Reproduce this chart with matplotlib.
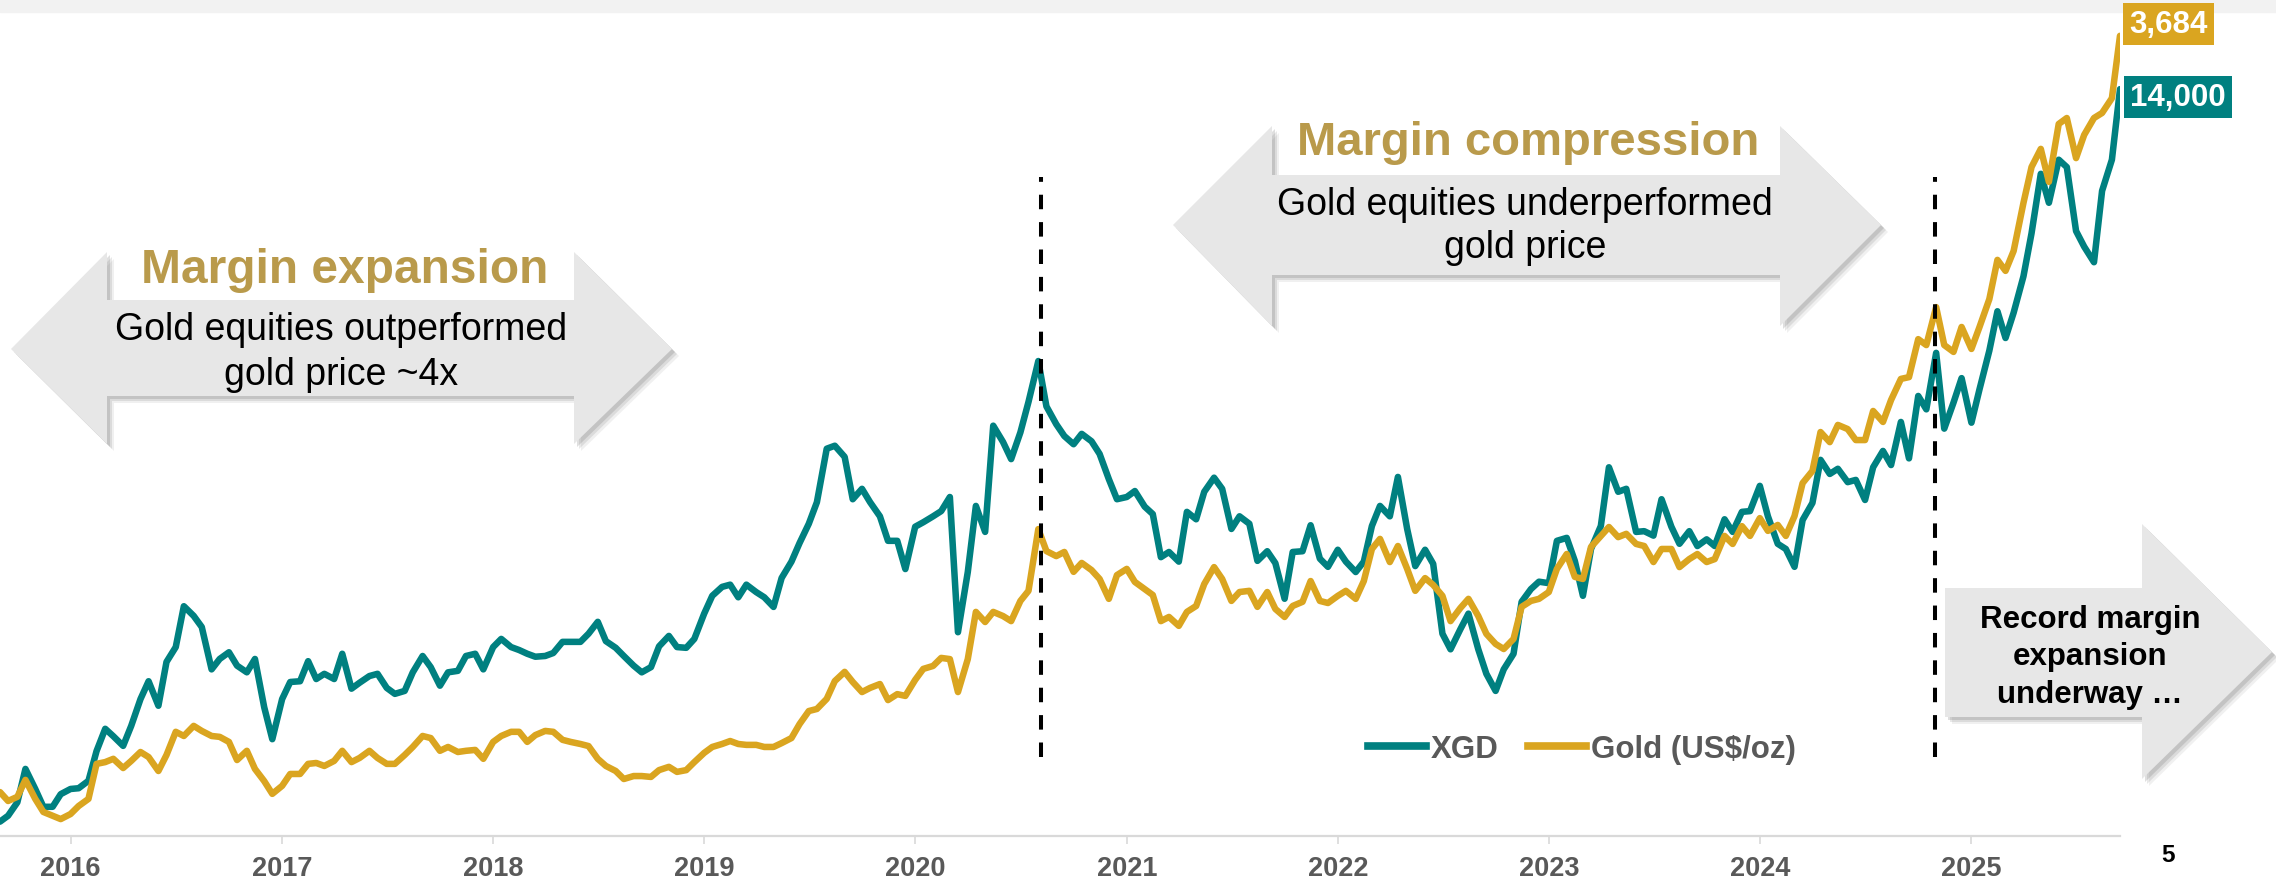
import matplotlib
matplotlib.use('Agg')
import matplotlib.pyplot as plt
from matplotlib.patches import Polygon, Rectangle
from matplotlib.lines import Line2D
import pandas as pd

plt.rcParams['font.family'] = ['Liberation Sans', 'DejaVu Sans']

W, H = 2276, 879
TEAL = '#008080'
GOLD = '#daa520'
TITLE_C = '#b99a4b'
GREY_TXT = '#595959'
ARROW_C = '#e7e7e7'

# semi-monthly observations, Sep 2015 - Sep 2025
dates = pd.date_range('2015-09-01', '2025-09-15', freq='SMS')

xgd = [4140, 4220, 4400, 4850, 4580, 4340, 4340, 4510, 4580, 4590,
       4690, 5090, 5390, 5290, 5160, 5430, 5790, 6030, 5700, 6290,
       6490, 7040, 6910, 6760, 6190, 6330, 6420, 6240, 6150, 6330,
       5680, 5250, 5790, 6020, 6030, 6300, 6060, 6130, 6060, 6400,
       5930, 6010, 6100, 6130, 5940, 5860, 5900, 6150, 6370, 6220,
       5970, 6150, 6170, 6370, 6400, 6190, 6490, 6600, 6490, 6450,
       6400, 6360, 6370, 6410, 6560, 6560, 6560, 6670, 6830, 6570,
       6480, 6370, 6240, 6150, 6220, 6500, 6640, 6490, 6480, 6600,
       6940, 7180, 7300, 7330, 7160, 7330, 7230, 7160, 7030, 7420,
       7640, 7890, 8150, 8440, 9160, 9200, 9050, 8480, 8620, 8440,
       8250, 7920, 7920, 7540, 8110, 8170, 8250, 8320, 8510, 6690,
       7500, 8390, 8040, 9470, 9250, 9020, 9380, 9790, 10340, 9730,
       9490, 9330, 9220, 9360, 9260, 9090, 8750, 8480, 8510, 8590,
       8380, 8280, 7700, 7770, 7640, 8310, 8210, 8580, 8770, 8620,
       8080, 8250, 8150, 7650, 7780, 7620, 7140, 7770, 7780, 8130,
       7680, 7570, 7800, 7640, 7500, 7640, 8120, 8390, 8250, 8780,
       8080, 7580, 7800, 7610, 6670, 6460, 6730, 6940, 6460, 6130,
       5900, 6190, 6400, 7100, 7270, 7370, 7350, 7920, 7960, 7650,
       7180, 7810, 8120, 8910, 8580, 8620, 8040, 8050, 7990, 8480,
       8110, 7880, 8050, 7850, 7940, 7850, 8210, 8040, 8310, 8320,
       8660, 8250, 7880, 7810, 7570, 8200, 8430, 9010, 8820, 8890,
       8710, 8740, 8470, 8910, 9130, 8940, 9520, 9030, 9870, 9690,
       10450, 9430, 9780, 10110, 9510, 9960, 10480, 11010, 10650, 10990,
       11480, 12060, 12860, 12470, 13050, 12950, 12090, 11880, 11670, 12630,
       13050, 14000]

gold = [1136, 1106, 1120, 1177, 1113, 1069, 1056, 1045, 1062, 1089,
        1113, 1231, 1237, 1248, 1217, 1241, 1271, 1254, 1207, 1261,
        1339, 1325, 1359, 1342, 1325, 1322, 1305, 1244, 1275, 1214,
        1173, 1130, 1157, 1197, 1197, 1231, 1234, 1224, 1241, 1275,
        1237, 1251, 1275, 1251, 1231, 1231, 1261, 1288, 1325, 1318,
        1275, 1288, 1271, 1275, 1278, 1248, 1305, 1325, 1339, 1339,
        1305, 1328, 1342, 1339, 1312, 1305, 1298, 1291, 1248, 1224,
        1207, 1180, 1190, 1190, 1187, 1210, 1221, 1204, 1210, 1237,
        1268, 1288, 1298, 1308, 1298, 1295, 1295, 1288, 1288, 1301,
        1318, 1365, 1409, 1416, 1450, 1510, 1541, 1507, 1473, 1487,
        1500, 1446, 1466, 1460, 1514, 1551, 1561, 1588, 1584, 1473,
        1584, 1743, 1709, 1743, 1729, 1712, 1780, 1814, 2022, 1948,
        1931, 1945, 1878, 1908, 1884, 1854, 1787, 1867, 1888, 1844,
        1820, 1800, 1712, 1726, 1696, 1743, 1763, 1837, 1894, 1854,
        1780, 1810, 1814, 1760, 1810, 1753, 1726, 1763, 1777, 1847,
        1780, 1773, 1797, 1814, 1787, 1847, 1955, 1989, 1911, 1965,
        1888, 1814, 1857, 1834, 1797, 1712, 1756, 1787, 1729, 1669,
        1635, 1618, 1652, 1760, 1780, 1787, 1810, 1888, 1938, 1861,
        1854, 1962, 1999, 2029, 1995, 2006, 1972, 1965, 1911, 1955,
        1955, 1894, 1921, 1938, 1911, 1921, 1999, 1972, 2032, 1999,
        2059, 2016, 2036, 1999, 2066, 2177, 2218, 2349, 2315, 2373,
        2359, 2322, 2322, 2420, 2383, 2457, 2528, 2534, 2662, 2642,
        2770, 2642, 2619, 2703, 2629, 2703, 2797, 2929, 2892, 2959,
        3121, 3242, 3303, 3192, 3387, 3407, 3272, 3350, 3407, 3424,
        3474, 3684]

year_labels = ['2016', '2017', '2018', '2019', '2020',
               '2021', '2022', '2023', '2024', '2025']
regime_changes = ['2020-08-05', '2024-10-30']


def fx(x):
    return x / W


def fy(y):
    return 1 - y / H


def big_arrow(pts):
    # drop shadow, a few offset layers to fake the blur
    for off, a in [(7, 0.10), (5, 0.16), (3, 0.22)]:
        sh = [(fx(x + off), fy(y + off)) for x, y in pts]
        fig.add_artist(Polygon(sh, closed=True, transform=fig.transFigure,
                               fc='#707070', ec='none', alpha=a, zorder=2))
    fig.add_artist(Polygon([(fx(x), fy(y)) for x, y in pts], closed=True,
                           transform=fig.transFigure, fc=ARROW_C, ec='none', zorder=3))


fig = plt.figure(figsize=(W / 100, H / 100), dpi=100)
fig.add_artist(Rectangle((0, fy(13)), 1, 13 / H, transform=fig.transFigure,
                         color='#f2f2f2', zorder=-1))

ax = fig.add_axes([0, fy(837), fx(2120), 837 / H])
ax.set_facecolor('none')
ax2 = ax.twinx()

ax.plot(dates, xgd, color=TEAL, lw=4.7, solid_joinstyle='round', solid_capstyle='round')
ax2.plot(dates, gold, color=GOLD, lw=4.7, solid_joinstyle='round', solid_capstyle='round')

ax.set_xlim(dates[0], dates[-1])
ax.set_ylim(3947, 15213)
ax2.set_ylim(988, 3808)

for a in (ax, ax2):
    for s in ['top', 'left', 'right']:
        a.spines[s].set_visible(False)
    a.set_yticks([])
ax2.spines['bottom'].set_visible(False)
ax.spines['bottom'].set_color('#d9d9d9')
ax.spines['bottom'].set_linewidth(1.6)

ax.set_xticks(pd.to_datetime([y + '-01-01' for y in year_labels]))
ax.set_xticklabels(year_labels, fontweight='bold')
ax.tick_params(axis='x', colors='#d9d9d9', length=6, width=1.2,
               labelcolor=GREY_TXT, labelsize=19.5, pad=8)

for d in regime_changes:
    ax2.axvline(pd.Timestamp(d), ymin=0.094, ymax=0.787, color='black',
                lw=2.9, ls=(0, (3.6, 3.2)), zorder=5)

# end-of-series value tags
ax2.annotate(f'{gold[-1]:,}', xy=(dates[-1], gold[-1]), xytext=(9, 12),
             textcoords='offset pixels', ha='left', va='center', color='white',
             fontweight='bold', fontsize=22.5, annotation_clip=False,
             bbox=dict(boxstyle='square,pad=0.2', fc=GOLD, ec='none'))
ax.annotate(f'{xgd[-1]:,}', xy=(dates[-1], xgd[-1]), xytext=(10, -8),
            textcoords='offset pixels', ha='left', va='center', color='white',
            fontweight='bold', fontsize=22.5, annotation_clip=False,
            bbox=dict(boxstyle='square,pad=0.2', fc=TEAL, ec='none'))

handles = [Line2D([], [], color=TEAL, lw=5.5), Line2D([], [], color=GOLD, lw=5.5)]
leg = ax2.legend(handles, ['XGD', r'Gold (US\$/oz)'], loc='center',
                 bbox_to_anchor=(fx(1582), fy(750)), bbox_transform=fig.transFigure,
                 ncol=2, frameon=False, handlelength=1.85, handletextpad=0.15,
                 columnspacing=0.95, borderpad=0, labelcolor=GREY_TXT,
                 prop={'weight': 'bold', 'size': 22.5})

# annotation arrows
big_arrow([(11, 350), (107, 253), (107, 301), (574, 301), (574, 253), (672, 350),
           (574, 445), (574, 397), (107, 397), (107, 445)])
big_arrow([(1173, 226), (1272, 127), (1272, 176), (1780, 176), (1780, 127), (1881, 226),
           (1780, 327), (1780, 276), (1272, 276), (1272, 327)])
big_arrow([(1945, 589), (2142, 589), (2142, 525), (2272, 653), (2142, 780),
           (2142, 718), (1945, 718)])

fig.text(fx(345), fy(283), 'Margin expansion', ha='center', va='baseline',
         fontsize=34.5, fontweight='bold', color=TITLE_C, zorder=4)
fig.text(fx(341), fy(340), 'Gold equities outperformed', ha='center', va='baseline',
         fontsize=27, color='black', zorder=4)
fig.text(fx(341), fy(385), 'gold price ~4x', ha='center', va='baseline',
         fontsize=27, color='black', zorder=4)

fig.text(fx(1528), fy(155), 'Margin compression', ha='center', va='baseline',
         fontsize=34, fontweight='bold', color=TITLE_C, zorder=4)
fig.text(fx(1525), fy(215), 'Gold equities underperformed', ha='center', va='baseline',
         fontsize=27, color='black', zorder=4)
fig.text(fx(1525), fy(258), 'gold price', ha='center', va='baseline',
         fontsize=27, color='black', zorder=4)

for txt, yb in [('Record margin', 628), ('expansion', 665), ('underway \u2026', 703)]:
    fig.text(fx(2090), fy(yb), txt, ha='center', va='baseline', fontsize=22.5,
             fontweight='bold', color='black', zorder=4)

fig.text(fx(2168), fy(856), '5', ha='center', va='center', fontsize=17.5,
         fontweight='bold', color='black')

fig.savefig('out.png', dpi=100)
